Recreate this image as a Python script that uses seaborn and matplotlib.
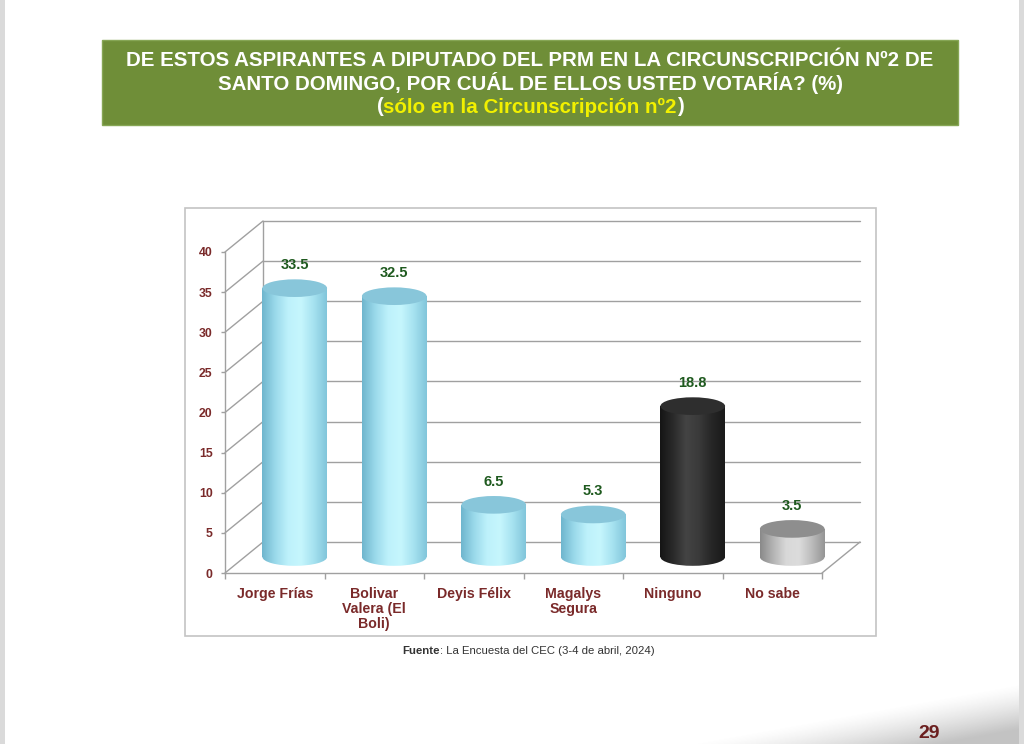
import numpy as np
import pandas as pd
import matplotlib
matplotlib.use("Agg")
import matplotlib.pyplot as plt
import matplotlib.transforms as mtransforms
from matplotlib.patches import Ellipse, Rectangle
from matplotlib.colors import to_rgb
import seaborn as sns

# ---------------- data ----------------
categories = ["Jorge Frías", "Bolivar\nValera (El\nBoli)", "Deyis Félix",
              "Magalys\nSegura", "Ninguno", "No sabe"]
values = [33.5, 32.5, 6.5, 5.3, 18.8, 3.5]
value_labels = ["33.5", "32.5", "6.5", "5.3", "18.8", "3.5"]
y_ticks = [0, 5, 10, 15, 20, 25, 30, 35, 40]
title_lines = ["DE ESTOS ASPIRANTES A DIPUTADO DEL PRM EN LA CIRCUNSCRIPCIÓN Nº2 DE",
               "SANTO DOMINGO, POR CUÁL DE ELLOS USTED VOTARÍA? (%)"]
subtitle = "sólo en la Circunscripción nº2"
source_bold = "Fuente"
source_rest = ": La Encuesta del CEC (3-4 de abril, 2024)"
page_number = "29"

# styles
blue_grad = ["#6fb6ce", "#9ad9ea", "#bdf1fb", "#c6f6fd", "#a6e2f0", "#82c6db"]
dark_grad = ["#151515", "#2a2a2a", "#444444", "#3a3a3a", "#262626", "#1a1a1a"]
gray_grad = ["#8a8a8a", "#b4b4b4", "#d8d8d8", "#dcdcdc", "#bcbcbc", "#959595"]
grads = [blue_grad, blue_grad, blue_grad, blue_grad, dark_grad, gray_grad]
top_colors = ["#88c6da", "#88c6da", "#88c6da", "#88c6da", "#2e2e2e", "#8e8e8e"]

W, H = 1024, 744
sns.set_theme(style="white")
plt.rcParams["font.family"] = ["Liberation Sans", "DejaVu Sans"]

fig = plt.figure(figsize=(W / 100, H / 100), dpi=100)
fig.patch.set_facecolor("white")

# background overlay axes (pixel coordinates, origin top-left)
bg = fig.add_axes([0, 0, 1, 1])
bg.set_xlim(0, W)
bg.set_ylim(H, 0)
bg.axis("off")

# page edges
bg.add_patch(Rectangle((0, 0), 5, H, color="#dadada", lw=0))
bg.add_patch(Rectangle((1019, 0), 5, H, color="#dadada", lw=0))
# bottom-right diagonal shading
sx = np.linspace(560, 1019, 400)
sy = np.linspace(640, 744, 120)
XX, YY = np.meshgrid(sx, sy)
boundary = 744 - (XX - 690) * 60 / 329
dist = YY - boundary
alpha = np.clip(dist / 45.0, 0, 1) ** 1.3 * 0.42
img = np.zeros((len(sy), len(sx), 4))
img[..., :3] = 0.45
img[..., 3] = alpha
bg.imshow(img, extent=[560, 1019, 744, 640], aspect="auto", zorder=0.5,
          interpolation="bilinear")

# title box
tfs = 14.8
bg.add_patch(Rectangle((102, 40), 856, 85, facecolor="#6f8e38",
                       edgecolor="#86a655", lw=1.0, zorder=1))
bg.text(530, 60, title_lines[0], color="white", fontsize=tfs, fontweight="bold",
        ha="center", va="center", zorder=2)
bg.text(530, 83, title_lines[1], color="white", fontsize=tfs, fontweight="bold",
        ha="center", va="center", zorder=2)
sub = bg.text(530, 107, subtitle, color="#f2f000", fontsize=tfs, fontweight="bold",
              ha="center", va="center", zorder=2)
bg.annotate("(", xy=(0, 0.5), xycoords=sub, ha="right", va="center",
            color="white", fontsize=tfs, fontweight="bold", zorder=2)
bg.annotate(")", xy=(1, 0.5), xycoords=sub, ha="left", va="center",
            color="white", fontsize=tfs, fontweight="bold", zorder=2)

# chart frame
bg.add_patch(Rectangle((185, 208), 691, 428, facecolor="none",
                       edgecolor="#c4c4c4", lw=1.2, zorder=1))

# source
src = bg.text(402, 651, source_bold, color="#333333", fontsize=8.2,
              fontweight="bold", ha="left", va="center")
bg.annotate(source_rest, xy=(1, 0.5), xycoords=src, ha="left", va="center",
            color="#333333", fontsize=8.2)
bg.text(929, 734, page_number, color="#6b1f1f", fontsize=14, fontweight="bold",
        ha="center", va="center")

# ---------------- chart axes (front plane) ----------------
x0p, x1p, y0p, y1p = 225, 822, 573, 252
ax = fig.add_axes([x0p / W, 1 - y0p / H, (x1p - x0p) / W, (y0p - y1p) / H])
ax.set_facecolor("none")

df = pd.DataFrame({"cat": categories, "val": values})
sns.barplot(data=df, x="cat", y="val", hue="cat", legend=False,
            palette=[g[2] for g in grads], width=0.65, ax=ax,
            saturation=1, zorder=3)
bars = list(ax.patches)

ax.set_xlim(-0.5, 5.5)
ax.set_ylim(0, 40)

# offsets
depth_dx, depth_dy = 0.38, 0.31        # back wall offset (inches)
bar_dx, bar_dy = 0.20, 0.16            # cylinders sit mid-depth
back = ax.transData + mtransforms.ScaledTranslation(depth_dx, depth_dy, fig.dpi_scale_trans)
mid = ax.transData + mtransforms.ScaledTranslation(bar_dx, bar_dy, fig.dpi_scale_trans)

grid_c = "#a0a0a0"
px_per_x = (x1p - x0p) / 6.0
px_per_y = (y0p - y1p) / 40.0
ddx = depth_dx * 100 / px_per_x
ddy = depth_dy * 100 / px_per_y
# back wall grid lines
for t in y_ticks:
    ax.plot([-0.5, 5.5], [t, t], color=grid_c, lw=1.0, transform=back,
            zorder=1, clip_on=False)
# left wall diagonals
for t in y_ticks:
    ax.plot([-0.5, -0.5 + ddx], [t, t + ddy], color=grid_c, lw=1.0,
            zorder=1, clip_on=False)
# back wall left edge
ax.plot([-0.5, -0.5], [0, 40], color=grid_c, lw=1.0, transform=back,
        zorder=1, clip_on=False)
# floor right edge
ax.plot([5.5, 5.5 + ddx], [0, ddy], color=grid_c, lw=1.0, zorder=1, clip_on=False)

# cylinders
ell_h = 2.2
label_gap = 2.9
for p, g, tc, lab in zip(bars, grads, top_colors, value_labels):
    p.set_transform(mid)
    p.set_facecolor("none")
    p.set_edgecolor("none")
    p.set_clip_on(False)
    bx, bw, bh = p.get_x(), p.get_width(), p.get_height()
    cx = bx + bw / 2
    grad_rgb = np.array([to_rgb(c) for c in g])
    xs = np.linspace(0, 1, len(g))
    xi = np.linspace(0, 1, 100)
    grad = np.stack([np.interp(xi, xs, grad_rgb[:, k]) for k in range(3)], axis=-1)[None, :, :]
    # body + rounded bottom (gradient clipped to shapes)
    e_bot = Ellipse((cx, 0), bw, ell_h, transform=mid, facecolor="none",
                    edgecolor="none", zorder=2.9)
    ax.add_patch(e_bot)
    for shape, ext in [(e_bot, [bx, bx + bw, -ell_h, 0.01]),
                       (p, [bx, bx + bw, 0, bh])]:
        im = ax.imshow(grad, extent=ext, aspect="auto", transform=mid,
                       zorder=3.0, interpolation="bilinear")
        im.set_clip_box(fig.bbox)
        im.set_clip_path(mtransforms.TransformedPath(shape.get_path(),
                                                     shape.get_transform()))
    # top ellipse
    ax.add_patch(Ellipse((cx, bh), bw, ell_h, transform=mid, facecolor=tc,
                         edgecolor="none", zorder=3.5, clip_on=False))
    ax.text(cx, bh + label_gap, lab, transform=mid, ha="center", va="center",
            color="#1f5a1f", fontsize=10.5, fontweight="bold", zorder=4)

ax.set_xlim(-0.5, 5.5)
ax.set_ylim(0, 40)

# axes styling
for s in ["top", "right"]:
    ax.spines[s].set_visible(False)
for s in ["left", "bottom"]:
    ax.spines[s].set_color(grid_c)
    ax.spines[s].set_linewidth(1.0)
ax.set_xlabel("")
ax.set_ylabel("")
ax.set_yticks(y_ticks)
ax.set_yticklabels([str(t) for t in y_ticks], color="#7a2a2a",
                   fontsize=8.8, fontweight="bold")
ax.tick_params(axis="y", length=3, width=1.0, color=grid_c, pad=6, left=True)
ax.set_xticks(range(len(categories)))
ax.set_xticklabels(categories, color="#7a2a2a", fontsize=10.2, fontweight="bold",
                   linespacing=1.1, va="top")
ax.tick_params(axis="x", length=0, pad=10)
ax.set_xticks(np.arange(-0.5, 6.0, 1.0), minor=True)
ax.tick_params(axis="x", which="minor", length=4, width=1.0, color=grid_c,
               bottom=True)
ax.grid(False)

fig.savefig("out.png", dpi=100, facecolor="white")
